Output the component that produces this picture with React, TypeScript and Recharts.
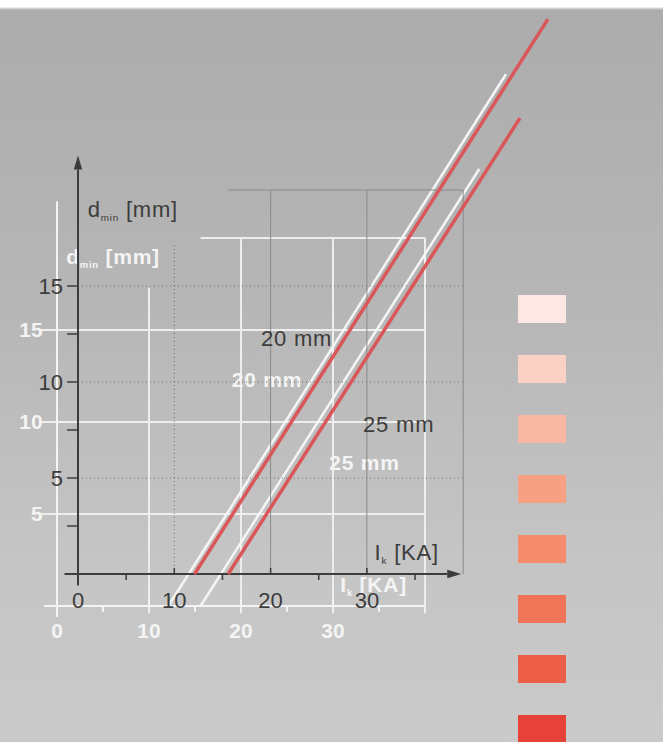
import React from 'react';
import { LineChart, Line, XAxis, YAxis, ReferenceLine, ReferenceDot } from 'recharts';

// I_k [kA] against d_min [mm], one line per conductor size
const seriesNames = ['20 mm', '25 mm'];
const currentKA20 = [12.1, 48.8];
const diameter20 = [0, 28.9];
const currentKA25 = [15.6, 45.9];
const diameter25 = [0, 23.75];

const xTickLabels = [0, 10, 20, 30];
const xTickMarks = [0, 5, 10, 15, 20, 25, 30, 35];
const yTickLabels = [5, 10, 15];
const yTickMarks = [2.5, 5, 7.5, 10, 12.5, 15];
const gridY = [5, 10, 15];
const gridX = [10, 20, 30, 40];

const swatchColors = ['#fde8e3', '#fbd0c5', '#f9b8a4', '#f7a184', '#f58c6e', '#f07458', '#ec5e47', '#e6423a'];

const line20 = currentKA20.map((x, i) => ({ x, y: diameter20[i] }));
const line25 = currentKA25.map((x, i) => ({ x, y: diameter25[i] }));

const W = 663;
const H = 742;
const X_MAX = 50;
const Y_MAX = 29.5;
const AXIS_W = 30;
const AXIS_H = 40;
const FONT = '"Liberation Sans", Arial, sans-serif';

const arrowLine = (color: string, width: number, head: number) => (p: any) => {
  const { x1, y1, x2, y2 } = p;
  const dx = x2 - x1;
  const dy = y2 - y1;
  const len = Math.hypot(dx, dy) || 1;
  const ux = dx / len;
  const uy = dy / len;
  const bx = x2 - ux * head;
  const by = y2 - uy * head;
  const hw = head * 0.3;
  return (
    <g>
      <line x1={x1} y1={y1} x2={bx} y2={by} stroke={color} strokeWidth={width} />
      {head > 0 && (
        <polygon
          points={`${x2},${y2} ${bx - uy * hw},${by + ux * hw} ${bx + uy * hw},${by - ux * hw}`}
          fill={color}
        />
      )}
    </g>
  );
};

interface LayerProps {
  ox: number;
  oy: number;
  sx: number;
  sy: number;
  ghost?: boolean;
}

const ChartLayer: React.FC<LayerProps> = ({ ox, oy, sx, sy, ghost }) => {
  const k = sx / 9.63;
  const ink = ghost ? '#f4f4f4' : '#3c3c3c';
  const fs = 22 * k;
  const margin = {
    left: ox - AXIS_W,
    top: oy - Y_MAX * sy,
    right: W - ox - X_MAX * sx,
    bottom: H - oy - AXIS_H,
  };

  const textAt = (label: React.ReactNode, anchor: 'start' | 'middle' | 'end' = 'start') => (p: any) => (
    <text
      x={p.cx}
      y={p.cy}
      dy="0.35em"
      textAnchor={anchor}
      fill={ink}
      fontSize={fs}
      fontFamily={FONT}
      fontWeight={ghost ? 600 : 400}
      letterSpacing={0.8 * k}
    >
      {label}
    </text>
  );

  const renderXTick = (p: any) => {
    const { x, y, payload } = p;
    const v = payload.value as number;
    const up = v % 10 === 0 && v > 0;
    const len = 6 * k;
    return (
      <g key={`xt-${v}`}>
        {v !== 0 && (
          <line x1={x} x2={x} y1={y} y2={up ? y - len : y + len} stroke={ink} strokeWidth={ghost ? 2 : 1.5} />
        )}
        {xTickLabels.includes(v) && (
          <text x={x} y={y + 26 * k} dy="0.35em" textAnchor="middle" fill={ink} fontSize={fs} fontFamily={FONT} fontWeight={ghost ? 600 : 400}>
            {v}
          </text>
        )}
      </g>
    );
  };

  const renderYTick = (p: any) => {
    const { x, y, payload } = p;
    const v = payload.value as number;
    return (
      <g key={`yt-${v}`}>
        {!ghost && <line x1={x - 11} x2={x} y1={y} y2={y} stroke={ink} strokeWidth={1.5} />}
        {yTickLabels.includes(v) && (
          <text x={x - 15 * k} y={y} dy="0.35em" textAnchor="end" fill={ink} fontSize={fs} fontFamily={FONT} fontWeight={ghost ? 600 : 400}>
            {v}
          </text>
        )}
      </g>
    );
  };

  const gridColor = ghost ? '#eeeeee' : '#6f6f6f';
  const boxColor = ghost ? '#eeeeee' : '#8a8a8a';
  const gridW = ghost ? 2 : 1;
  const dash = ghost ? undefined : '1 3';

  return (
    <LineChart width={W} height={H} margin={margin}>
      <XAxis
        type="number"
        dataKey="x"
        domain={[0, X_MAX]}
        ticks={xTickMarks}
        tick={renderXTick}
        tickSize={0}
        tickMargin={0}
        axisLine={false}
        tickLine={false}
        height={AXIS_H}
        interval={0}
      />
      <YAxis
        type="number"
        dataKey="y"
        domain={[0, Y_MAX]}
        ticks={yTickMarks}
        tick={renderYTick}
        tickSize={0}
        tickMargin={0}
        axisLine={false}
        tickLine={false}
        width={AXIS_W}
        interval={0}
      />

      {gridY.map((v) => (
        <ReferenceLine
          key={`gy-${v}`}
          ifOverflow="visible"
          segment={[{ x: ghost ? -1.8 : 0, y: v }, { x: 40, y: v }]}
          stroke={gridColor}
          strokeWidth={gridW}
          strokeDasharray={dash}
        />
      ))}
      <ReferenceLine
        ifOverflow="visible"
        segment={[{ x: 15.6, y: 20 }, { x: 40, y: 20 }]}
        stroke={boxColor}
        strokeWidth={gridW}
      />
      {gridX.map((v) => (
        <ReferenceLine
          key={`gx-${v}`}
          ifOverflow="visible"
          segment={[{ x: v, y: ghost ? -0.4 : 0 }, { x: v, y: v === 10 ? 17.3 : 20 }]}
          stroke={v === 10 ? gridColor : boxColor}
          strokeWidth={gridW}
          strokeDasharray={v === 10 ? dash : undefined}
        />
      ))}

      {/* axes */}
      <ReferenceLine
        ifOverflow="visible"
        segment={[{ x: -1.4, y: 0 }, { x: ghost ? 40 : 39.8, y: 0 }]}
        shape={arrowLine(ink, 2, ghost ? 0 : 14)}
      />
      <ReferenceLine
        ifOverflow="visible"
        segment={[{ x: 0, y: -0.6 }, { x: 0, y: ghost ? 22 : 21.8 }]}
        shape={arrowLine(ink, 2, ghost ? 0 : 14)}
      />

      <Line
        data={line20}
        dataKey="y"
        name={seriesNames[0]}
        stroke={ghost ? '#f5f5f5' : '#d95659'}
        strokeWidth={ghost ? 2.5 : 3.5}
        dot={false}
        isAnimationActive={false}
      />
      <Line
        data={line25}
        dataKey="y"
        name={seriesNames[1]}
        stroke={ghost ? '#f5f5f5' : '#d95659'}
        strokeWidth={ghost ? 2.5 : 3.5}
        dot={false}
        isAnimationActive={false}
      />

      <ReferenceDot
        x={1.0}
        y={19.0}
        r={0}
        ifOverflow="visible"
        shape={textAt(
          <>
            d
            <tspan fontSize={fs * 0.45} dy={4 * k}>min</tspan>
            <tspan dy={-4 * k}> [mm]</tspan>
          </>
        )}
      />
      <ReferenceDot
        x={30.8}
        y={1.15}
        r={0}
        ifOverflow="visible"
        shape={textAt(
          <>
            I
            <tspan fontSize={fs * 0.45} dy={4 * k}>k</tspan>
            <tspan dy={-4 * k}> [KA]</tspan>
          </>
        )}
      />
      <ReferenceDot x={19.0} y={12.3} r={0} ifOverflow="visible" shape={textAt(seriesNames[0])} />
      <ReferenceDot x={29.6} y={7.8} r={0} ifOverflow="visible" shape={textAt(seriesNames[1])} />
    </LineChart>
  );
};

const App: React.FC = () => (
  <div
    style={{
      position: 'absolute',
      left: 0,
      top: 0,
      width: W,
      height: H,
      overflow: 'hidden',
      background: 'linear-gradient(#ffffff 0px, #ffffff 7px, #dcdcdc 8px, #acacac 10px, #b6b6b6 300px, #c5c5c5 560px, #cacaca 742px)',
    }}
  >
    <div style={{ position: 'absolute', left: 0, top: 0 }}>
      <ChartLayer ox={57} oy={606} sx={9.2} sy={18.4} ghost />
    </div>
    <div style={{ position: 'absolute', left: 0, top: 0 }}>
      <ChartLayer ox={78} oy={574} sx={9.63} sy={19.2} />
    </div>
    {swatchColors.map((c, i) => (
      <div
        key={c}
        style={{ position: 'absolute', left: 518, top: 295 + i * 60, width: 48, height: 28, background: c }}
      />
    ))}
  </div>
);

export default App;
